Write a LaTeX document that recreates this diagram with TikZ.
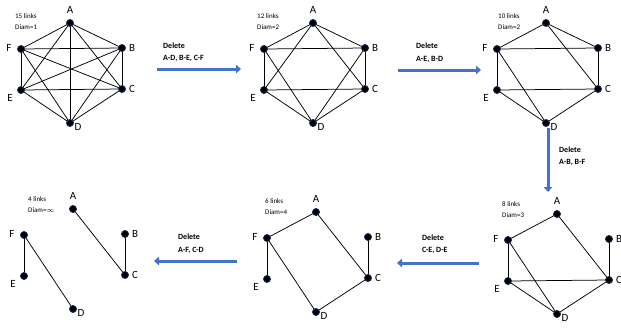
\documentclass[tikz,border=0pt]{standalone}
\usepackage{fontspec}
\setmainfont{Carlito}
\usetikzlibrary{arrows.meta}
\definecolor{arrblue}{RGB}{68,114,196}
\definecolor{vtxrim}{RGB}{40,60,110}
\tikzset{
  vtx/.style={circle, fill=black, draw=vtxrim, line width=0.6pt, minimum size=7pt, inner sep=0pt},
  lbl/.style={font=\fontsize{11}{12}\selectfont, inner sep=0pt},
  info/.style={font=\fontsize{7}{8}\selectfont, inner sep=0pt, anchor=west},
  deltxt/.style={font=\bfseries\fontsize{8}{9}\selectfont, inner sep=0pt, anchor=west},
  edge/.style={line width=0.75pt, black},
  bigarrow/.style={line width=3pt, arrblue, -{Triangle[length=5pt,width=8.5pt]}}
}
\newcommand{\mkgraph}[3]{%
\begin{scope}[shift={(#2,#3)}]
\node[vtx] (#1A) at (70,23) {};
\node[vtx] (#1B) at (122,48) {};
\node[vtx] (#1C) at (122,89) {};
\node[vtx] (#1D) at (70,123) {};
\node[vtx] (#1E) at (21,90) {};
\node[vtx] (#1F) at (21,49) {};
\node[lbl] (#1lA) at (70,10) {A};
\node[lbl] (#1lB) at (132,48) {B};
\node[lbl] (#1lC) at (132,89) {C};
\node[lbl] (#1lD) at (78,127) {D};
\node[lbl] (#1lE) at (10,98) {E};
\node[lbl] (#1lF) at (9,48) {F};
\end{scope}}
\begin{document}
\begin{tikzpicture}[x=1pt,y=-1pt]
\useasboundingbox (0,0) rectangle (621,327);
% graphs
\mkgraph{a}{0}{0}
\mkgraph{b}{243}{0}
\mkgraph{c}{476}{0}
\mkgraph{d}{487}{191}
\mkgraph{e}{246}{189}
\mkgraph{f}{3}{186}
% info texts
\node[info] (ia1) at (15,16) {15 links};
\node[info] (ia2) at (15,27) {Diam=1};
\node[info] (ib1) at (257,16) {12 links};
\node[info] (ib2) at (257,27) {Diam=2};
\node[info] (ic1) at (498,16) {10 links};
\node[info] (ic2) at (498,27) {Diam=2};
\node[info] (id1) at (502,204) {8 links};
\node[info] (id2) at (502,215) {Diam=3};
\node[info] (ie1) at (265,201) {6 links};
\node[info] (ie2) at (265,212) {Diam=4};
\node[info] (if1) at (28,199) {4 links};
\node[info] (if2) at (28,210) {Diam=$\infty$};
% graph 1: complete
\foreach \u/\v in {A/B,A/C,A/D,A/E,A/F,B/C,B/D,B/E,B/F,C/D,C/E,C/F,D/E,D/F,E/F}
  \draw[edge] (a\u.center) -- (a\v.center);
% graph 2
\foreach \u/\v in {A/B,A/C,A/E,A/F,B/C,B/D,B/F,C/D,C/E,D/E,D/F,E/F}
  \draw[edge] (b\u.center) -- (b\v.center);
% graph 3
\foreach \u/\v in {A/B,A/C,A/F,B/C,B/F,C/D,C/E,D/E,D/F,E/F}
  \draw[edge] (c\u.center) -- (c\v.center);
% graph 4
\foreach \u/\v in {A/C,A/F,B/C,C/D,C/E,D/E,D/F,E/F}
  \draw[edge] (d\u.center) -- (d\v.center);
% graph 5
\foreach \u/\v in {A/C,A/F,B/C,C/D,D/F,E/F}
  \draw[edge] (e\u.center) -- (e\v.center);
% graph 6
\foreach \u/\v in {A/C,B/C,D/F,E/F}
  \draw[edge] (f\u.center) -- (f\v.center);
% redraw vertices on top
\foreach \g in {a,b,c,d,e,f}
  \foreach \v in {A,B,C,D,E,F}
    \node[vtx] at (\g\v) {};
% arrows and captions
\coordinate (s1) at (157,69); \coordinate (t1) at (241,69);
\draw[bigarrow] (s1) -- (t1);
\node[deltxt] (d1a) at (163,46) {Delete};
\node[deltxt] (d1b) at (163,58) {A-D, B-E, C-F};
\coordinate (s2) at (398,70); \coordinate (t2) at (481,70);
\draw[bigarrow] (s2) -- (t2);
\node[deltxt] (d2a) at (416,46) {Delete};
\node[deltxt] (d2b) at (416,59) {A-E, B-D};
\coordinate (s3) at (548,128); \coordinate (t3) at (548,192);
\draw[bigarrow] (s3) -- (t3);
\node[deltxt] (d3a) at (559,150) {Delete};
\node[deltxt] (d3b) at (559,162) {A-B, B-F};
\coordinate (s4) at (479,263); \coordinate (t4) at (397,263);
\draw[bigarrow] (s4) -- (t4);
\node[deltxt] (d4a) at (422,238) {Delete};
\node[deltxt] (d4b) at (422,250) {C-E, D-E};
\coordinate (s5) at (237,261); \coordinate (t5) at (154,261);
\draw[bigarrow] (s5) -- (t5);
\node[deltxt] (d5a) at (178,237) {Delete};
\node[deltxt] (d5b) at (178,250) {A-F, C-D};
\end{tikzpicture}
\end{document}
